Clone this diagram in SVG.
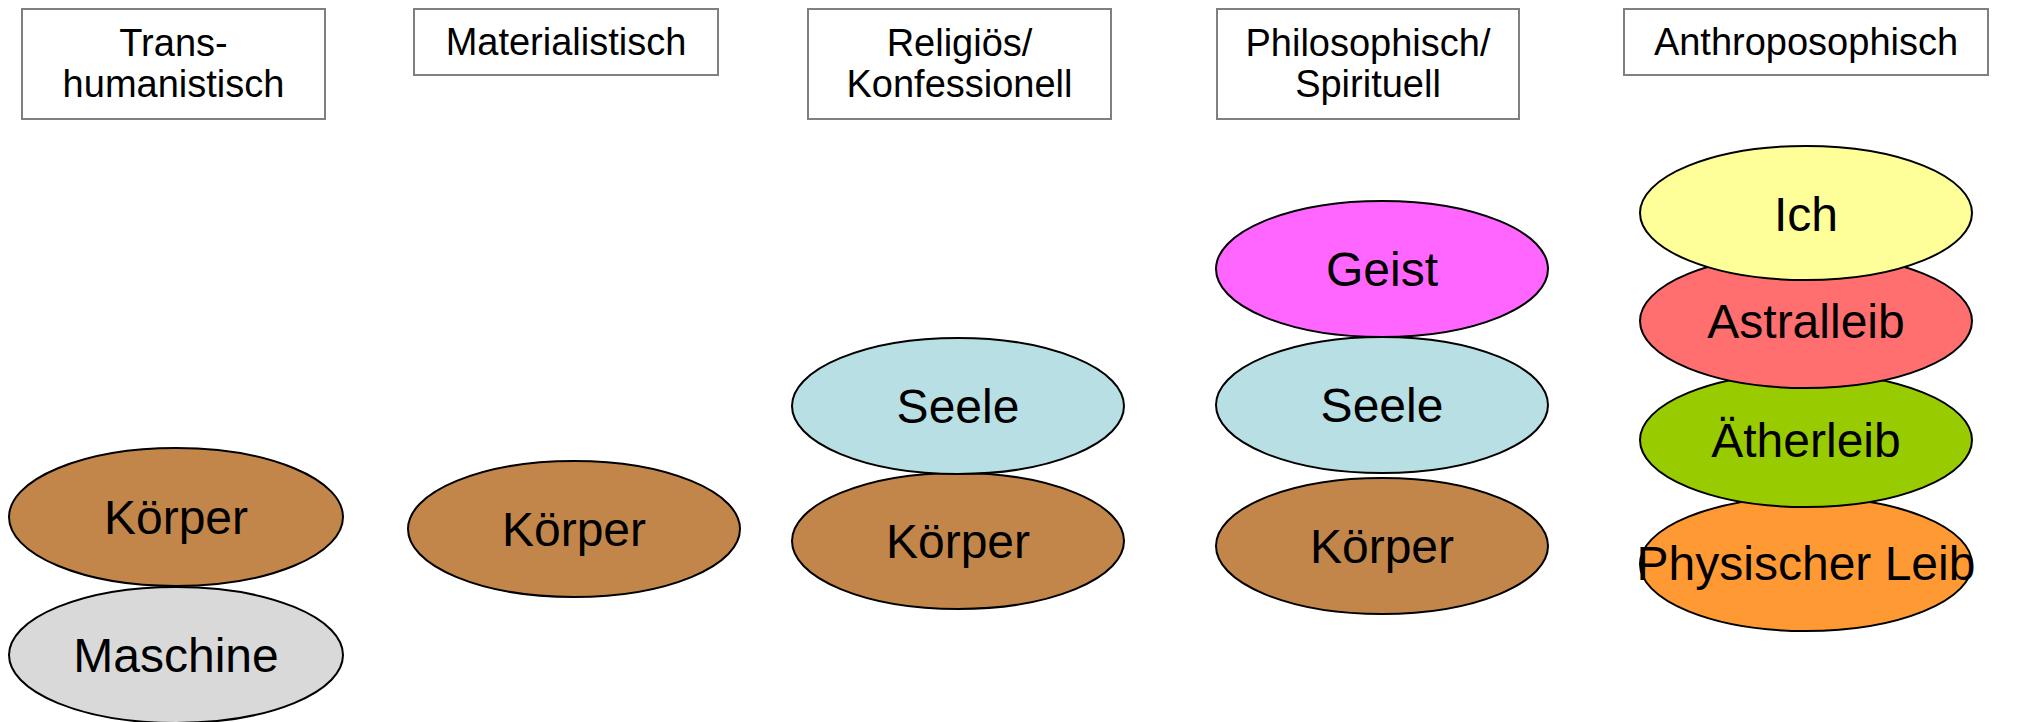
<svg xmlns="http://www.w3.org/2000/svg" width="2036" height="722" viewBox="0 0 2036 722">
<style>
.box{fill:#ffffff;stroke:#808080;stroke-width:2}
.hd{font-family:"Liberation Sans",Arial,sans-serif;font-size:38px;fill:#000;text-anchor:middle}
.el{stroke:#000;stroke-width:2}
.lb{font-family:"Liberation Sans",Arial,sans-serif;font-size:48px;fill:#000;text-anchor:middle}
.koerper{fill:#C2864A}
.maschine{fill:#D9D9D9}
.seele{fill:#B8DFE3}
.geist{fill:#FF66FF}
.ich{fill:#FFFF99}
.astral{fill:#FF6F6F}
.aether{fill:#99CC00}
.phys{fill:#FF9933}
</style>
<rect width="2036" height="722" fill="#ffffff"/>
<g id="connectors"></g>
<g id="h-trans"><rect class="box" x="22" y="9" width="303" height="110"/><text class="hd" x="173.5" y="56">Trans-</text><text class="hd" x="173.5" y="97">humanistisch</text></g>
<g id="h-mat"><rect class="box" x="414" y="9" width="304" height="66"/><text class="hd" x="566" y="55">Materialistisch</text></g>
<g id="h-rel"><rect class="box" x="808" y="9" width="303" height="110"/><text class="hd" x="959.5" y="56">Religiös/</text><text class="hd" x="959.5" y="97">Konfessionell</text></g>
<g id="h-phil"><rect class="box" x="1217" y="9" width="302" height="110"/><text class="hd" x="1368" y="56">Philosophisch/</text><text class="hd" x="1368" y="97">Spirituell</text></g>
<g id="h-anth"><rect class="box" x="1624" y="9" width="364" height="66"/><text class="hd" x="1806" y="55">Anthroposophisch</text></g>

<g id="trans-maschine"><ellipse class="el maschine" cx="176" cy="655" rx="167" ry="68"/><text class="lb" x="176" y="672">Maschine</text></g>
<g id="trans-koerper"><ellipse class="el koerper" cx="176" cy="517" rx="167" ry="69"/><text class="lb" x="176" y="534">Körper</text></g>

<g id="mat-koerper"><ellipse class="el koerper" cx="574" cy="529" rx="166" ry="68"/><text class="lb" x="574" y="546">Körper</text></g>

<g id="rel-koerper"><ellipse class="el koerper" cx="958" cy="541" rx="166" ry="68"/><text class="lb" x="958" y="558">Körper</text></g>
<g id="rel-seele"><ellipse class="el seele" cx="958" cy="406" rx="166" ry="68"/><text class="lb" x="958" y="423">Seele</text></g>

<g id="phil-koerper"><ellipse class="el koerper" cx="1382" cy="546" rx="166" ry="68"/><text class="lb" x="1382" y="563">Körper</text></g>
<g id="phil-seele"><ellipse class="el seele" cx="1382" cy="405" rx="166" ry="68"/><text class="lb" x="1382" y="422">Seele</text></g>
<g id="phil-geist"><ellipse class="el geist" cx="1382" cy="269" rx="166" ry="68"/><text class="lb" x="1382" y="286">Geist</text></g>

<g id="anth-phys"><ellipse class="el phys" cx="1806" cy="564" rx="166" ry="67"/><text class="lb" x="1806" y="580">Physischer Leib</text></g>
<g id="anth-aether"><ellipse class="el aether" cx="1806" cy="440" rx="166" ry="67"/><text class="lb" x="1806" y="457">Ätherleib</text></g>
<g id="anth-astral"><ellipse class="el astral" cx="1806" cy="321" rx="166" ry="67"/><text class="lb" x="1806" y="338">Astralleib</text></g>
<g id="anth-ich"><ellipse class="el ich" cx="1806" cy="213" rx="166" ry="67"/><text class="lb" x="1806" y="231">Ich</text></g>
</svg>
